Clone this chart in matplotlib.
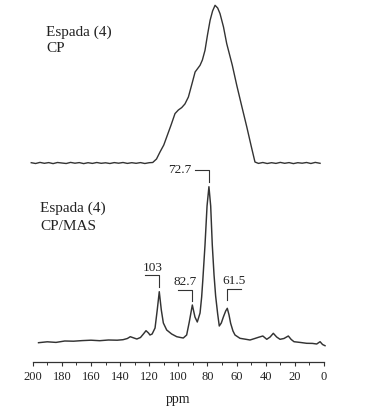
import matplotlib
matplotlib.use("Agg")
import matplotlib.pyplot as plt
import numpy as np

# ---- data ----
# CP spectrum (intensity above its own baseline)
cp_ppm = [201, 198, 195, 192, 189, 186, 183, 180, 177, 174, 171, 168, 165, 162,
          159, 156, 153, 150, 147, 144, 141, 138, 135, 132, 129, 126, 123, 120,
          117.6, 115, 112.6, 110, 108, 105, 102.3, 100, 97.7, 95.5, 93.1, 90.5,
          88.5, 85.1, 83.5, 81.7, 80, 78.2, 76.5, 74.8, 73, 71.4, 69, 66.8, 63,
          59.9, 56.5, 53, 50, 47.4, 45, 42, 39, 36, 33, 30, 27, 24, 21, 18, 15,
          12, 9, 6, 2.7]
cp_int = [0.3, -0.5, 0.6, -0.3, 0.4, -0.6, 0.5, 0.0, -0.5, 0.6, -0.2, 0.4, -0.6,
          0.3, -0.4, 0.5, -0.3, 0.2, -0.5, 0.4, -0.2, 0.5, -0.4, 0.3, -0.3, 0.4,
          -0.5, 0.3, 0.5, 4, 11, 18, 26, 38, 49.4, 53, 55.4, 59, 66, 80,
          91, 97.7, 103, 112.7, 128, 142.7, 152, 157.7, 155, 149.4, 136, 119.4, 98,
          77.7, 57, 36, 17, 1, -0.4, 0.5, -0.5, 0.3, -0.4, 0.6, -0.3, 0.4, -0.6,
          0.3, -0.2, 0.5, -0.5, 0.6, -0.3]

# CP/MAS spectrum (intensity above the axis)
mas_ppm = [196, 190, 184, 178, 172, 166, 160, 154, 148, 142, 138, 135, 133,
           130.5, 128.5, 126, 124, 122.2, 120.5, 119.5, 118, 116, 114.5, 113.1,
           111.7, 110.3, 108, 104.6, 101.1, 98.5, 96.6, 94.3, 92.5, 90.4, 88.6,
           87.0, 85.1, 84.0, 83.2, 81.7, 80.3, 79.0, 77.8, 76.7, 75.5, 74.4, 73.0,
           71.9, 70.5, 69.1, 67.5, 66.4, 65.2, 64.1, 62.5, 61.1, 57.7, 54, 50.8,
           47.5, 45, 42, 39.3, 37, 34.8, 32.5, 30.2, 27.5, 24.5, 22.5, 20.6, 16,
           11.9, 8, 5, 2.7, 1, -0.7]
mas_int = [19.3, 20.2, 19.6, 21, 20.8, 21.4, 21.8, 21.3, 22, 21.8, 22.3, 23.5,
           25.3, 24, 23, 24.5, 28, 31.3, 29, 27, 28, 34, 52, 70.3,
           52, 39, 32, 28, 25.3, 24.5, 24, 27, 40, 57, 45,
           40, 49, 65, 82, 117, 156, 175.3, 156, 117, 87, 66, 48,
           36, 39, 45, 51, 53.7, 47, 38.7, 31, 27, 23.7, 22.8, 22,
           23.5, 24.7, 26, 22.7, 25, 28.7, 25, 22.7, 23.5, 26, 22.5, 20.3, 19.5,
           18.7, 18.6, 18, 20.3, 17.5, 16.3]

cp_offset = 199.0

peak_ppm = [113.1, 90.4, 79.0, 66.4]
peak_labels = ["103", "82.7", "72.7", "61.5"]
peak_side = [1, 1, 1, -1]          # +1: arm goes towards higher ppm, -1: lower
peak_text_mode = ["above", "above", "left", "above"]
peak_gap = [5, 4, 5, 8]

xticks = [200, 180, 160, 140, 120, 100, 80, 60, 40, 20, 0]

# ---- figure ----
W, H = 369, 413
fig = plt.figure(figsize=(W / 100, H / 100), dpi=100)
plt.rcParams["font.family"] = ["Liberation Serif", "DejaVu Serif"]
ax = fig.add_axes([32.7 / W, (H - 362) / H, (324 - 32.7) / W, 362 / H])
ax.set_xlim(200, 0)
ax.set_ylim(0, 362)

lc = "#333333"
ax.plot(cp_ppm, np.array(cp_int) + cp_offset, color=lc, lw=1.0, clip_on=False)
ax.plot(mas_ppm, mas_int, color=lc, lw=1.05, clip_on=False)

# peak annotations
mas_p = np.array(mas_ppm)
mas_i = np.array(mas_int)
for p, lab, side, mode, gap in zip(peak_ppm, peak_labels, peak_side,
                                   peak_text_mode, peak_gap):
    top = mas_i[np.argmin(np.abs(mas_p - p))]
    base = top + gap
    arm = base + 11.5
    end = p + side * 9.6
    ax.plot([p, p, end], [base, arm, arm], color=lc, lw=0.8)
    if mode == "above":
        ax.text((p + end) / 2, arm + 1.5, lab, ha="center", va="bottom",
                fontsize=9.5, color="#222222")
    else:
        ax.text(end + 2.2, arm, lab, ha="right", va="center",
                fontsize=9.5, color="#222222")

for s in ["top", "left", "right"]:
    ax.spines[s].set_visible(False)
ax.spines["bottom"].set_color("#333333")
ax.spines["bottom"].set_linewidth(0.9)
ax.set_yticks([])
ax.set_xticks(xticks)
ax.set_xticks(np.arange(190, 0, -20), minor=True)
ax.tick_params(axis="x", which="major", direction="out", length=3, width=0.8,
               pad=3.5, labelsize=9, colors="#333333", labelcolor="#222222")
ax.tick_params(axis="x", which="minor", direction="out", length=2, width=0.7,
               colors="#333333")
ax.set_xlabel("ppm", fontsize=10, color="#222222", labelpad=7)

fig.text(46 / W, 1 - 32 / H, "Espada (4)", fontsize=11, va="center", ha="left",
         color="#222222")
fig.text(46 / W, 1 - 49 / H, "CP", fontsize=11, va="center", ha="left",
         color="#222222")
fig.text(40 / W, 1 - 208 / H, "Espada (4)", fontsize=11, va="center", ha="left",
         color="#222222")
fig.text(40 / W, 1 - 227 / H, "CP/MAS", fontsize=11, va="center", ha="left",
         color="#222222")

fig.savefig("out.png", dpi=100)
